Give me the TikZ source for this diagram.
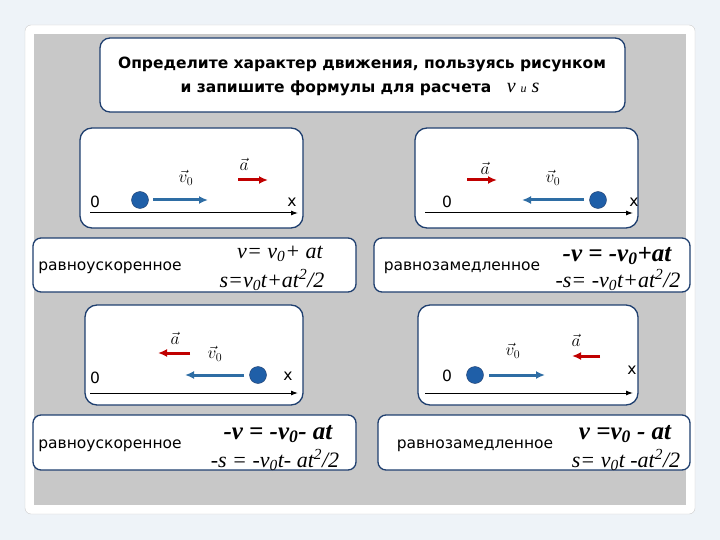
\documentclass[tikz,border=0pt]{standalone}
\usepackage{fontspec}
\setmainfont{DejaVu Sans}
\newfontfamily\fser{Liberation Serif}
\usetikzlibrary{arrows.meta}
\definecolor{pagebg}{HTML}{EEF3F8}
\definecolor{graybg}{HTML}{C8C8C8}
\definecolor{bordb}{HTML}{1F3F6F}
\definecolor{ballb}{HTML}{1F5FA8}
\definecolor{arrb}{HTML}{2E6DA4}
\definecolor{redc}{HTML}{C00000}
\tikzset{
  panel/.style={draw=bordb, line width=1.3pt, fill=white, rounded corners=12pt},
  fbox/.style={draw=bordb, line width=1.3pt, fill=white, rounded corners=8pt},
  lab/.style={font=\fontsize{15.5}{17}\selectfont, inner sep=0pt},
  form/.style={font=\fser\itshape\fontsize{22}{24}\selectfont, inner sep=0pt},
  formb/.style={font=\fser\itshape\bfseries\fontsize{25}{27}\selectfont, inner sep=0pt},
  vec/.style={font=\fontsize{18}{20}\selectfont, inner sep=0pt},
  ball/.style={circle, fill=ballb, draw=bordb, minimum size=17pt, inner sep=0pt},
  axis/.style={-{Latex[length=7pt,width=5pt]}, line width=1pt},
  barr/.style={-{Latex[length=9pt,width=8pt]}, line width=3pt, draw=arrb},
  rarr/.style={-{Latex[length=9pt,width=8pt]}, line width=3pt, draw=redc},
}
\begin{document}
\begin{tikzpicture}[x=1pt,y=-1pt]
\path[use as bounding box, fill=pagebg] (0,0) rectangle (720,540);
\filldraw[fill=white, draw=gray!40, rounded corners=6pt] (25,25) rectangle (695,514);
\fill[graybg] (34,34) rectangle (686,505);
% title
\draw[fbox, rounded corners=10pt] (100,38) rectangle (625,112);
\node[font=\bfseries\fontsize{15.5}{17}\selectfont, inner sep=0pt] (t1) at (362,64) {Определите характер движения, пользуясь рисунком};
\node[font=\bfseries\fontsize{15.5}{17}\selectfont, inner sep=0pt] (t2) at (360,88) {и запишите формулы для расчета\quad {\fser\itshape\mdseries\fontsize{20}{22}\selectfont v {\fontsize{12}{12}\selectfont и} s}};
% ---- panel TL
\draw[panel] (80,128) rectangle (303,228);
\draw[axis] (90,213) -- (298,213);
\node[lab] (z1) at (95,202) {0};
\node[lab] (x1) at (292,202) {x};
\node[ball] (b1) at (140,200) {};
\draw[barr] (153,200) -- (208,200);
\node[vec] (lv1) at (186,178) {$\vec{v}_0$};
\draw[rarr] (238,180) -- (268,180);
\node[vec] (la1) at (244,164) {$\vec{a}$};
\draw[fbox] (33,238) rectangle (356,292);
\node[lab] (n1) at (110,268) {равноускоренное};
\node[form] (f1a) at (280,254) {v= v\textsubscript{0}+ at};
\node[form] (f1b) at (272,280) {s=v\textsubscript{0}t+at\textsuperscript{2}/2};
% ---- panel TR
\draw[panel] (415,128) rectangle (638,228);
\draw[axis] (425,213) -- (633,213);
\node[lab] (z2) at (447,202) {0};
\node[lab] (x2) at (634,202) {x};
\node[ball] (b2) at (598,200) {};
\draw[barr] (584,200) -- (522,200);
\node[vec] (lv2) at (553,178) {$\vec{v}_0$};
\draw[rarr] (467,180) -- (497,180);
\node[vec] (la2) at (485,168) {$\vec{a}$};
\draw[fbox] (374,238) rectangle (690,292);
\node[lab] (n2) at (462,268) {равнозамедленное};
\node[formb] (f2a) at (617,256) {-v = -v\textsubscript{0}+at};
\node[form] (f2b) at (618,280) {-s= -v\textsubscript{0}t+at\textsuperscript{2}/2};
% ---- panel BL
\draw[panel] (85,305) rectangle (303,405);
\draw[axis] (90,393) -- (298,393);
\node[lab] (z3) at (95,378) {0};
\node[lab] (x3) at (288,376) {x};
\node[ball] (b3) at (258,375) {};
\draw[barr] (244,375) -- (185,375);
\node[vec] (lv3) at (215,354) {$\vec{v}_0$};
\draw[rarr] (190,353) -- (158,353);
\node[vec] (la3) at (175,338) {$\vec{a}$};
\draw[fbox] (33,415) rectangle (356,470);
\node[lab] (n3) at (110,446) {равноускоренное};
\node[formb] (f3a) at (278,434) {-v = -v\textsubscript{0}- at};
\node[form] (f3b) at (275,460) {-s = -v\textsubscript{0}t- at\textsuperscript{2}/2};
% ---- panel BR
\draw[panel] (418,305) rectangle (638,405);
\draw[axis] (425,393) -- (633,393);
\node[lab] (z4) at (447,376) {0};
\node[lab] (x4) at (632,370) {x};
\node[ball] (b4) at (475,375) {};
\draw[barr] (489,375) -- (545,375);
\node[vec] (lv4) at (513,351) {$\vec{v}_0$};
\draw[rarr] (600,356) -- (572,356);
\node[vec] (la4) at (576,340) {$\vec{a}$};
\draw[fbox] (378,415) rectangle (690,470);
\node[lab] (n4) at (475,446) {равнозамедленное};
\node[formb] (f4a) at (625,434) {v =v\textsubscript{0} - at};
\node[form] (f4b) at (626,460) {s= v\textsubscript{0}t -at\textsuperscript{2}/2};
\end{tikzpicture}
\end{document}
